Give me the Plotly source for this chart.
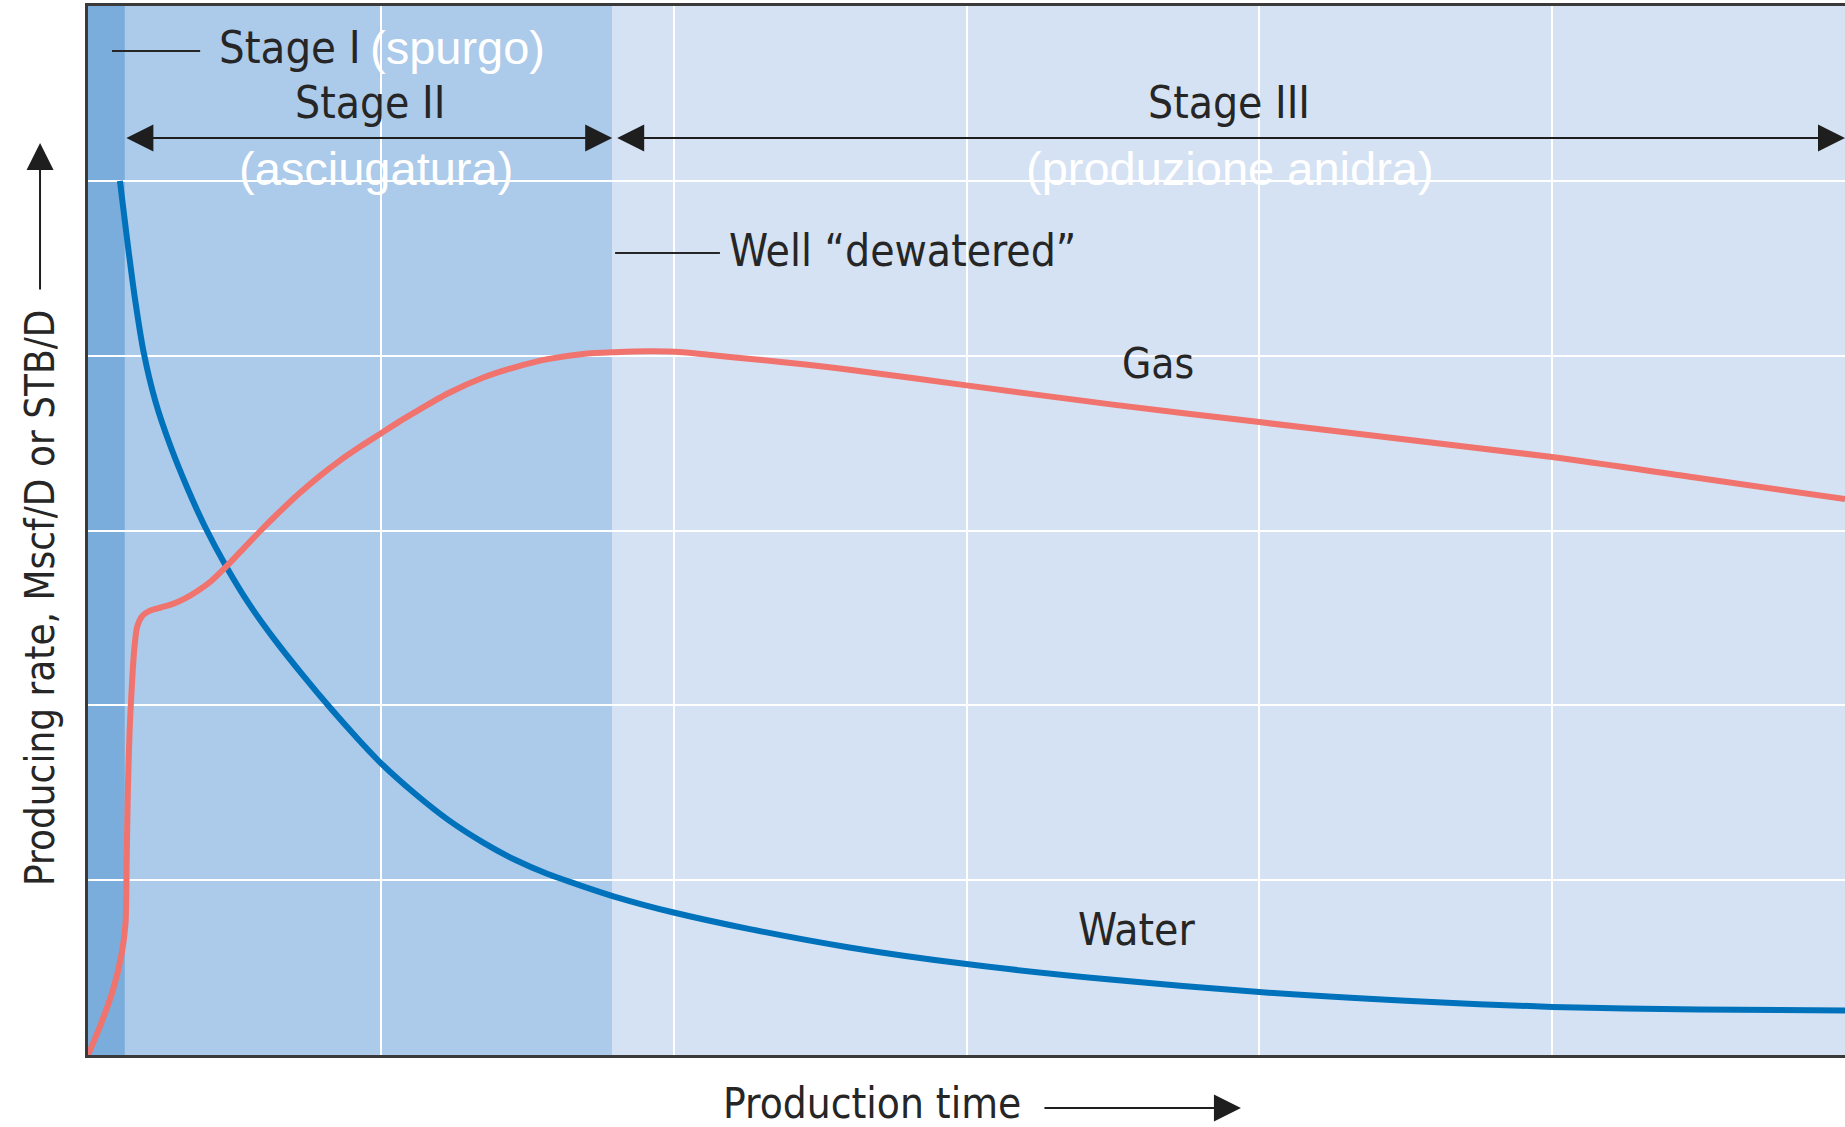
import plotly.graph_objects as go

# ---------------- data ----------------
gas_x = [0.0, 0.04, 0.085, 0.115, 0.128, 0.132, 0.136, 0.142, 0.15, 0.158, 0.168, 0.185,
         0.21, 0.25, 0.29, 0.33, 0.37, 0.42, 0.47, 0.53, 0.59, 0.65, 0.72, 0.79, 0.86, 0.93,
         1.0, 1.06, 1.12, 1.23, 1.35, 1.46, 1.57, 1.69, 1.8, 1.92, 2.03, 2.15, 2.3, 2.45, 2.6,
         3.0, 3.5, 4.0, 4.5, 5.0, 5.5, 6.0]
gas_y = [0.0, 0.16, 0.37, 0.58, 0.75, 1.1, 1.5, 1.85, 2.12, 2.32, 2.45, 2.51,
         2.54, 2.56, 2.58, 2.61, 2.65, 2.71, 2.79, 2.895, 3.0, 3.1, 3.21, 3.31, 3.40, 3.48,
         3.555, 3.62, 3.68, 3.785, 3.875, 3.935, 3.98, 4.01, 4.02, 4.025, 4.02, 4.0, 3.975, 3.95,
         3.92, 3.83, 3.72, 3.62, 3.52, 3.42, 3.30, 3.18]

water_x = [0.109, 0.12, 0.14, 0.16, 0.19, 0.23, 0.28, 0.34, 0.40, 0.47, 0.55, 0.64, 0.73,
           0.83, 0.915, 1.0, 1.12, 1.23, 1.35, 1.46, 1.57, 1.69, 1.8, 2.0, 2.26, 2.6, 3.0,
           3.5, 4.0, 4.5, 5.0, 5.5, 6.0]
water_y = [5.0, 4.85, 4.58, 4.33, 4.02, 3.74, 3.49, 3.24, 3.02, 2.80, 2.58, 2.37, 2.18,
           1.98, 1.82, 1.67, 1.49, 1.345, 1.215, 1.115, 1.035, 0.965, 0.905, 0.815, 0.72, 0.615,
           0.52, 0.43, 0.36, 0.31, 0.275, 0.26, 0.255]

stage_bounds = [0.0, 0.126, 1.79, 6.0]
stage_names = ["Stage I", "Stage II", "Stage III"]
stage_notes = ["(spurgo)", "(asciugatura)", "(produzione anidra)"]
grid_ticks = [1, 2, 3, 4, 5]
axis_range = [0, 6]

# ---------------- styles ----------------
stage_colors = ["#7aaddc", "#accaea", "#d5e2f3"]
water_color = "#0072bc"
gas_color = "#f0736e"
ink = "#262626"
arrow_ink = "#1e1e1e"
narrow = "DejaVu Sans Condensed, Liberation Sans Narrow, sans-serif"
regular = "Liberation Sans, Arial, Helvetica, sans-serif"


def dark(size=44):
    return dict(family=narrow, size=size, color=ink)


WHITE = dict(family=regular, size=47, color="white")

fig = go.Figure()

fig.add_trace(go.Scatter(x=water_x, y=water_y, mode="lines", name="Water",
                         line=dict(color=water_color, width=6, shape="spline", smoothing=0.8),
                         hoverinfo="skip"))
fig.add_trace(go.Scatter(x=gas_x, y=gas_y, mode="lines", name="Gas",
                         line=dict(color=gas_color, width=6, shape="spline", smoothing=0.8),
                         hoverinfo="skip"))

# stage bands
for i in range(3):
    fig.add_shape(type="rect", xref="x", yref="paper",
                  x0=stage_bounds[i], x1=stage_bounds[i + 1], y0=0, y1=1,
                  fillcolor=stage_colors[i], line_width=0, layer="below")

ann = []
HEAD = dict(arrowhead=2, arrowsize=2.7, arrowwidth=2, arrowcolor=arrow_ink)


def text(t, x, y, font, xanchor="center", ref="", **kw):
    ann.append(dict(text=t, x=x, y=y, xref="paper" if ref else "x", yref="paper" if ref else "y",
                    showarrow=False, font=font, xanchor=xanchor, yanchor="middle", **kw))


def span_arrow(x0, x1, y):
    ann.append(dict(text="", x=x1, y=y, ax=x0, ay=y, xref="x", yref="y", axref="x", ayref="y",
                    showarrow=True, arrowside="end+start", startarrowhead=2,
                    startarrowsize=2.7, standoff=0, startstandoff=0, **HEAD))


# Stage I
text(stage_names[0], 0.44, 5.76, dark(45), xanchor="left")
text(stage_notes[0], 0.955, 5.76, WHITE, xanchor="left")
fig.add_shape(type="line", xref="x", yref="y", x0=0.082, x1=0.383, y0=5.743, y1=5.743,
              line=dict(color=ink, width=2))

# Stage II
text(stage_names[1], 0.963, 5.446, dark())
span_arrow(stage_bounds[1], stage_bounds[2], 5.245)
text(stage_notes[1], 0.984, 5.073, WHITE)

# Stage III
text(stage_names[2], 3.897, 5.446, dark())
span_arrow(stage_bounds[2] + 0.012, stage_bounds[3], 5.245)
text(stage_notes[2], 3.90, 5.073, WHITE)

# Well dewatered
fig.add_shape(type="line", xref="x", yref="y", x0=stage_bounds[2] + 0.01, x1=2.158,
              y0=4.587, y1=4.587, line=dict(color=ink, width=2))
text("Well \u201cdewatered\u201d", 2.182, 4.599, dark(), xanchor="left")

# series labels
text("Gas", 3.654, 3.958, dark(42))
text("Water", 3.579, 0.715, dark())

# axis titles (outside the plotting area -> paper coordinates)
text("Production time", 0.3603, -0.0458, dark(42), xanchor="left", ref="paper")
ann.append(dict(text="", x=0.6562, y=-0.0505, xref="paper", yref="paper",
                axref="pixel", ayref="pixel", ax=-198, ay=0, showarrow=True, standoff=0, **HEAD))
ann.append(dict(text="Producing rate, Mscf/D or STB/D", x=-0.0273, y=0.4357,
                xref="paper", yref="paper", showarrow=False, textangle=-90,
                font=dark(40), xanchor="center", yanchor="middle"))
ann.append(dict(text="", x=-0.0273, y=0.8694, xref="paper", yref="paper",
                axref="pixel", ayref="pixel", ax=0, ay=148, showarrow=True, standoff=0, **HEAD))

fig.update_layout(
    width=1845, height=1127,
    margin=dict(l=88, r=0, t=6, b=72),
    paper_bgcolor="white", plot_bgcolor=stage_colors[2],
    showlegend=False, annotations=ann,
    xaxis=dict(range=axis_range, tickvals=grid_ticks, showticklabels=False, ticks="",
               showgrid=True, gridcolor="white", gridwidth=2, zeroline=False,
               showline=True, mirror=True, linecolor="#3a3a3a", linewidth=3, fixedrange=True),
    yaxis=dict(range=axis_range, tickvals=grid_ticks, showticklabels=False, ticks="",
               showgrid=True, gridcolor="white", gridwidth=2, zeroline=False,
               showline=True, linecolor="#3a3a3a", linewidth=3, fixedrange=True),
)

fig.write_html("out.html", config={"displayModeBar": False},
               post_script="document.body.style.margin='0';document.body.style.overflow='hidden';")
